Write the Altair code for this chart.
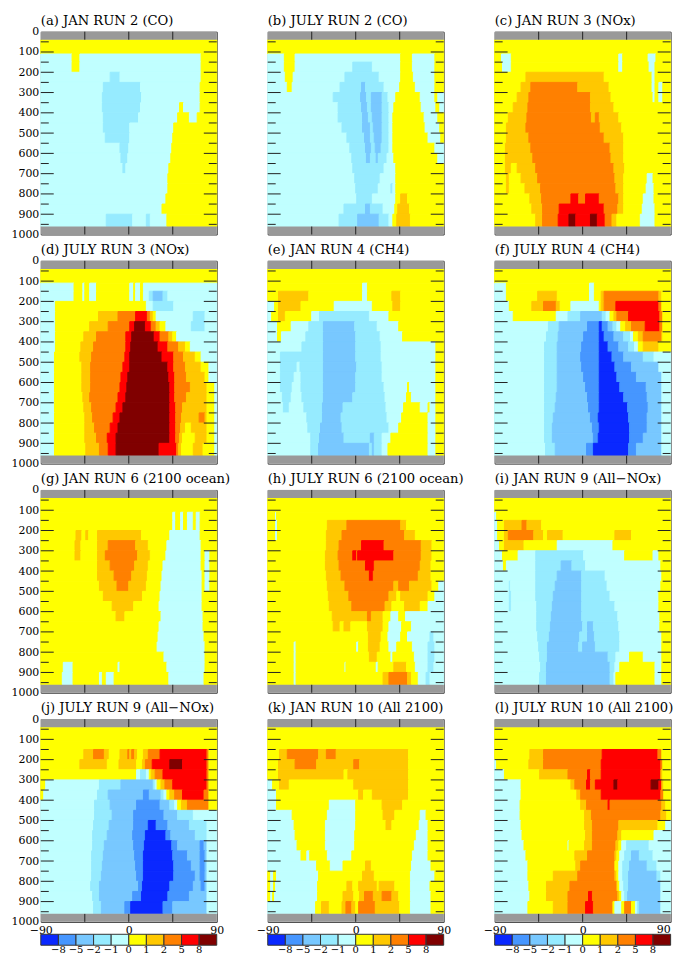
import altair as alt
import pandas as pd

FONT = "DejaVu Serif"
PALETTE = ["#0a28ff", "#4696ff", "#78c8ff", "#96ebff", "#c0ffff",
           "#ffff00", "#ffc800", "#ff8000", "#ff0000", "#800000"]
BAND_LABELS = ["\u22128", "\u22125", "\u22122", "\u22121", "0", "1", "2", "5", "8"]
PRESSURE_EDGES = [40, 110, 150, 200, 250, 300, 350, 400, 450, 500, 550, 600, 650, 700, 750, 800, 850, 900, 960]
TITLES = ["(a) JAN RUN 2 (CO)", "(b) JULY RUN 2 (CO)", "(c) JAN RUN 3 (NOx)",
          "(d) JULY RUN 3 (NOx)", "(e) JAN RUN 4 (CH4)", "(f) JULY RUN 4 (CH4)",
          "(g) JAN RUN 6 (2100 ocean)", "(h) JULY RUN 6 (2100 ocean)", "(i) JAN RUN 9 (All\u2212NOx)",
          "(j) JULY RUN 9 (All\u2212NOx)", "(k) JAN RUN 10 (All 2100)", "(l) JULY RUN 10 (All 2100)"]

# each row: band, latitude where it ends, band, latitude where it ends, ... last band runs to 90
PANEL_A = ["5",
"4 -58 5 -50 4 74 5",
"4 -58 5 -50 4 74 5",
"4 -19 3 -9 4 74 5",
"4 -26 3 12 4 73 5",
"4 -27 3 13 4 73 5",
"4 -27 3 12 4 52 5 56 4 73 5",
"4 -26 3 10 4 50 5 62 4 70 5",
"4 -26 3 1 4 46 5",
"4 -24 3 1 4 45 5",
"4 -9 3 0 4 44 5",
"4 -8 3 -1 4 43 5",
"4 -6 3 -3 4 41 5",
"4 40 5",
"4 40 5",
"4 38 5",
"4 34 5",
"4 -23 3 4 4 18 3 22 4 39 5"]
PANEL_B = ["5",
"4 -73 5 -62 4 46 5 58 4 81 5",
"4 -73 5 -62 4 -3 3 17 4 46 5 58 4 81 5",
"4 -72 5 -64 4 -11 3 24 4 46 5 59 4 81 5",
"4 -70 5 -65 4 -16 3 6 2 10 3 29 4 45 5 61 4 81 5",
"4 -23 3 5 2 11 3 16 2 27 3 33 4 41 5 66 4 81 5 84 4",
"4 -18 3 6 2 12 3 16 2 27 3 34 4 39 5 67 4 82 5 86 4",
"4 -18 3 7 2 13 3 17 2 27 3 34 4 38 5 70 4 84 5",
"4 -14 3 7 2 15 3 18 2 27 3 34 4 38 5 71 4 86 5",
"4 -9 3 9 2 15 3 19 2 27 3 34 4 38 5 74 4 87 5",
"4 -6 3 10 2 16 3 20 2 26 3 34 4 38 5 81 4",
"4 -4 3 11 2 15 3 21 2 23 3 32 4 39 5 84 4",
"4 -3 3 29 4 41 5",
"4 -1 3 25 4 41 5",
"4 0 3 23 4 36 3 38 4 41 5",
"4 1 3 17 4 41 5 46 6 53 5",
"4 -12 3 10 2 15 3 28 4 40 5 43 6 55 5",
"4 -17 3 2 2 24 3 34 4 38 5 42 6 56 5"]
PANEL_C = ["5",
"5 -83 4 -73 5 37 4 41 5 67 4 75 5",
"5 -82 4 -73 5 37 4 41 5 68 4 74 5",
"5 -58 6 22 5 71 4 74 5",
"5 -63 6 -53 7 -5 6 27 5 71 4 74 5 78 4 82 5",
"5 -67 6 -55 7 8 6 29 5 72 4 74 5 78 4 82 5",
"5 -71 6 -56 7 8 6 32 5",
"5 -76 6 -57 7 9 6 13 7 17 6 37 5",
"5 -78 6 -58 7 18 6 40 5",
"5 -78 6 -55 7 22 6 42 5",
"5 -79 6 -53 7 28 6 42 5",
"5 -79 6 -51 7 29 6 42 5",
"5 -79 6 -73 5 -67 6 -48 7 32 6 43 5",
"5 -78 6 -75 5 -63 6 -46 7 33 6 42 5 66 4 72 5",
"5 -78 6 -75 5 -59 6 -43 7 34 6 42 5 65 4 73 5",
"5 -54 6 -42 7 -12 8 -4 7 3 8 17 7 37 6 42 5 62 4 73 5",
"5 -52 6 -41 7 -24 8 22 7 36 6 42 5 61 4 74 5",
"5 -48 6 -41 7 -25 8 -14 9 -7 8 8 9 15 8 23 7 30 6 35 5 59 4 74 5"]
PANEL_D = ["5",
"4 -56 5 -47 4 -45 5 -40 4 -33 5 1 4 5 5 7 4 12 5 15 4",
"4 -56 5 -47 4 -45 5 -40 4 -33 5 1 4 5 5 7 4 12 5 15 4 21 3 25 2 35 3 40 4",
"4 -75 5 18 4 25 3 46 4",
"4 -75 5 -31 6 -11 7 7 8 19 7 22 6 25 5 28 4 66 3 78 4",
"4 -75 5 -40 6 -21 7 1 8 6 9 17 8 23 7 28 6 32 5 38 4 64 3 78 4",
"4 -75 5 -46 6 -33 7 -3 8 3 9 26 8 32 7 41 6 45 5 49 4",
"4 -75 5 -49 6 -36 7 -3 8 2 9 30 8 40 7 51 6 58 5 63 4",
"4 -76 5 -50 6 -38 7 -4 8 1 9 34 8 46 7 56 6 68 5 74 4",
"4 -76 5 -48 6 -39 7 -6 8 1 9 40 8 46 7 58 6 74 5 82 4",
"4 -76 5 -48 6 -39 7 -8 8 -1 9 41 8 47 7 59 6 78 5 82 4",
"4 -76 5 -48 6 -39 7 -9 8 -2 9 42 8 47 7 63 6 80 5 88 4",
"4 -76 5 -47 6 -40 7 -11 8 -3 9 42 8 47 7 59 6 80 5 88 4",
"4 -76 5 -46 6 -38 7 -13 8 -6 9 42 8 48 7 55 6 80 5 88 4",
"4 -76 5 -45 6 -37 7 -16 8 -9 9 42 8 48 7 54 6 72 7 78 6 80 5 88 4",
"4 -76 5 -45 6 -35 7 -19 8 -11 9 42 8 48 7 53 6 58 5 64 6 80 5 88 4",
"4 -76 5 -45 6 -33 7 -22 8 -13 9 42 8 48 7 52 6 55 5 68 6 80 5 88 4",
"4 -76 5 -44 6 -30 7 -21 8 -13 9 31 8 49 7 51 6 54 5 66 6 76 5 88 4"]
PANEL_E = ["5",
"5 7 4 12 5",
"5 -79 6 -48 5 7 4 12 5 37 6 46 5",
"4 -83 5 -79 6 -56 5 -22 4 17 5 38 6 46 5",
"4 -86 5 -79 6 -72 5 -45 4 -37 3 14 4 34 5",
"4 -80 5 -66 4 -48 3 -33 2 -1 3 22 4 44 5",
"4 -80 5 -76 4 -51 3 -33 2 0 3 25 4 48 5",
"4 -55 3 -33 2 0 3 26 4 82 5",
"4 -77 3 -33 2 0 3 26 4 82 5",
"4 -77 3 -60 4 -57 3 -33 2 1 3 27 4 82 5",
"4 -77 3 -63 4 -56 3 -33 2 0 3 27 4 82 5",
"4 -77 3 -65 4 -56 3 -33 2 0 3 29 4 53 5 55 4 82 5",
"4 -75 3 -66 4 -55 3 -33 2 -3 3 30 4 52 5 57 4 82 5",
"4 -74 3 -68 4 -53 3 -34 2 -13 3 31 4 49 5 66 4 74 5 76 4 82 5",
"4 -50 3 -34 2 -15 3 32 4 47 5 74 4 82 5",
"4 -49 3 -36 2 -14 3 34 4 44 5 74 4 82 5",
"4 -46 3 -37 2 -12 3 15 2 19 3 27 4 36 5 74 4 82 5",
"4 -46 3 -38 2 14 3 17 2 19 3 27 4 33 5 74 4 82 5"]
PANEL_F = ["5",
"4 -78 5 7 4 12 5",
"4 -78 5 -46 6 -26 5 7 4 12 5 19 6 22 7 78 6 81 5",
"4 -75 5 -52 6 -40 7 -27 6 -23 5 -12 4 17 5 19 6 22 7 34 8 78 7 81 5",
"4 -71 5 -27 4 -15 3 -2 2 20 3 24 4 28 5 32 6 35 7 47 8 79 7 82 5",
"4 -35 3 -24 2 5 1 17 0 20 1 26 2 31 3 35 4 39 5 44 6 50 7 64 8 79 7 82 5",
"4 -37 3 -25 2 1 1 17 0 22 1 32 2 42 3 49 4 52 5 57 6 62 7 81 6 82 5",
"4 -39 3 -26 2 -1 1 17 0 26 1 37 2 47 3 53 4 57 5 62 6 78 5",
"4 -39 3 -26 2 -2 1 17 0 30 1 42 2 62 3 73 4",
"4 -39 3 -26 2 -1 1 17 0 33 1 50 2 78 4",
"4 -39 3 -26 2 1 1 17 0 35 1 55 2 81 4",
"4 -39 3 -26 2 3 1 17 0 38 1 65 2 81 4",
"4 -39 3 -27 2 5 1 17 0 42 1 66 2 81 4",
"4 -39 3 -28 2 6 1 17 0 46 1 67 2 81 4",
"4 -39 3 -30 2 8 1 16 0 47 1 66 2 81 4",
"4 -39 3 -31 2 10 1 17 0 48 1 66 2 81 4",
"4 -39 3 -31 2 11 1 16 0 48 1 62 2 81 4",
"4 -38 3 -28 2 4 1 11 0 47 1 55 2 81 4"]
PANEL_G = ["5",
"5 45 4 48 5 53 4 56 5 60 4 66 5 69 4 73 5",
"5 45 4 48 5 53 4 56 5 60 4 66 5 69 4 73 5",
"5 -54 6 -48 5 -44 6 -41 5 -32 6 13 5 42 4 73 5",
"5 -55 6 -49 5 -32 6 -21 7 7 6 20 5 39 4 74 5",
"5 -55 6 -49 5 -32 6 -24 7 9 6 22 5 38 4 74 5 78 4 83 5",
"5 -32 6 -19 7 6 6 20 5 35 4 74 5 78 4 83 5",
"5 -32 6 -15 7 3 6 19 5 34 4 75 5 78 4 83 5",
"5 -30 6 -12 7 0 6 18 5 33 4 75 5 78 4 83 5",
"5 -26 6 14 5 32 4 75 5",
"5 -17 6 5 5 31 4 75 5",
"5 -13 6 -4 5 33 4 76 5",
"5 31 4 76 5",
"5 30 4 77 5",
"5 29 4 78 5",
"5 36 4 78 5",
"5 -67 4 -57 5 -11 4 -9 5 39 4 78 5",
"5 -68 4 -57 5 -30 4 -27 5 -23 4 -15 5 41 4 77 5"]
PANEL_H = ["5",
"5 -82 4 -81 5",
"5 -82 4 -80 5 -29 6 -9 7 46 6 52 5",
"5 -82 4 -80 5 -30 6 -14 7 50 6 61 5",
"5 -30 6 -17 7 6 8 29 7 67 6 78 5",
"5 -31 6 -18 7 -3 8 1 7 2 8 39 7 67 6 78 5",
"5 -31 6 -17 7 10 8 19 7 66 6 77 5",
"5 -30 6 -15 7 14 8 18 7 64 6 77 5",
"5 -29 6 -11 7 39 6 44 7 55 6 78 5 85 4",
"5 -28 6 -7 7 34 6 42 5 46 6 74 5 81 4",
"5 -27 6 -4 7 30 6 37 5 50 6 66 5 74 4",
"5 -24 6 12 7 16 6 28 5 36 4 44 5 51 4",
"5 -23 6 -16 5 -12 6 -5 5 12 6 28 5 34 4 47 5 57 4",
"5 13 6 26 5 33 4 46 5 53 4 76 3 80 4",
"5 -63 4 -61 5 1 4 3 5 13 6 25 5 34 4 42 5 58 4 74 3 81 4",
"5 -63 4 -61 5 14 6 22 5 36 4 38 5 60 4 74 3 81 4",
"5 -63 4 -61 5 -11 4 -10 5 21 4 23 5 39 6 52 5 61 4 74 3 80 4",
"5 -63 4 -61 5 28 6 34 7 53 6 57 5 64 4 72 3 76 4"]
PANEL_I = ["5",
"4 -88 5",
"4 -87 5 -80 6 -62 7 -57 6 -42 5",
"4 -87 5 -80 6 -76 7 -50 6 -40 5 -36 6 -20 5 33 6 50 5",
"4 -85 5 -80 6 -60 5 -26 4 31 5",
"4 -82 5 -66 4 -48 3 1 4 43 5 72 4 78 5",
"4 -81 5 -78 4 -48 3 -22 2 -11 3 3 4 80 5",
"4 -48 3 -26 2 -1 3 23 4 81 5",
"4 -75 3 -74 4 -48 3 -28 2 -1 3 25 4 80 5",
"4 -75 3 -73 4 -48 3 -30 2 -1 3 28 4 78 5",
"4 -75 3 -73 4 -47 3 -31 2 -1 3 33 4 78 5",
"4 -47 3 -32 2 -1 3 36 4 79 5",
"4 -47 3 -33 2 0 3 5 2 11 3 37 4 79 5",
"4 -46 3 -34 2 -3 3 5 2 12 3 38 4 81 5",
"4 -45 3 -36 2 -4 3 0 2 13 3 38 4 81 5",
"4 -44 3 -36 2 26 3 34 4 48 5 62 4 81 5",
"4 -43 3 -37 2 28 3 33 4 38 5 74 4 81 5",
"4 -44 3 -37 2 28 3 32 4 34 5 74 4 81 5"]
PANEL_J = ["5",
"5",
"5 -46 6 -36 7 -25 6 -20 5 -9 6 -1 7 1 6 3 7 6 6 9 5 15 6 20 7 32 8 80 7 82 5",
"5 -50 6 -22 5 -10 6 8 5 14 6 17 7 24 8 42 9 55 8 80 7 82 5",
"5 8 4 12 3 18 4 21 5 23 6 27 7 35 8 80 7 82 5",
"5 -85 4 -30 3 -8 2 25 3 27 4 29 5 33 6 37 7 45 8 80 7 82 5",
"5 -87 4 -32 3 -21 2 15 1 21 2 33 3 36 4 39 5 42 6 47 7 55 8 77 7 82 5",
"4 -35 3 -19 2 8 1 32 2 42 3 47 4 50 5 54 6 60 7 82 5",
"4 -35 3 -17 2 5 1 36 2 50 3 66 4",
"4 -36 3 -20 2 5 1 20 0 28 1 40 2 62 3 80 4",
"4 -37 3 -22 2 4 1 17 0 38 1 43 2 68 3 80 4",
"4 -37 3 -25 2 5 1 16 0 44 1 50 2 73 1 77 2 80 4",
"4 -38 3 -26 2 6 1 15 0 45 1 60 2 73 1 78 2 80 4",
"4 -38 3 -27 2 7 1 15 0 46 1 64 2 73 1 78 2 80 4",
"4 -38 3 -28 2 8 1 15 0 46 1 68 2 73 1 78 2 80 4",
"4 -39 3 -30 2 10 1 14 0 42 1 66 2 74 1 78 2 80 4",
"4 -37 3 -30 2 4 1 13 0 40 1 62 2 80 4",
"4 -36 3 -28 2 -4 1 2 0 35 1 45 2 80 4"]
PANEL_K = ["5",
"5",
"5 -78 6 -70 7 -38 6 -30 7 -20 6 54 5",
"5 -79 6 -62 7 -40 6 -2 7 4 6 54 5",
"5 -79 6 -12 5 -8 6 54 5",
"4 -85 5 -78 6 -68 5 -2 6 54 5",
"4 -81 5 3 6 8 5 17 6 54 5",
"4 -81 5 -27 4 0 5 27 6 48 5",
"4 -65 5 -29 4 0 5 28 6 40 5 66 4 72 5",
"4 -63 5 -31 4 0 5 31 6 37 5 65 4 74 5",
"4 -62 5 -31 4 -1 5 62 4 74 5",
"4 -60 5 -31 4 -1 5 60 4 74 5",
"4 -56 5 -50 4 -47 5 -29 4 -4 5 58 4 74 5",
"4 -40 5 -26 4 -13 5 10 6 16 5 57 4 77 5",
"5 -87 4 -84 5 -81 4 -38 5 7 6 19 5 56 4 81 5",
"5 -87 4 -84 5 -82 4 -39 5 -9 6 -3 5 3 6 22 5 24 6 40 5 56 4 76 5",
"5 -87 4 -85 5 -83 4 -39 5 -13 6 -2 5 4 6 9 7 18 6 27 7 37 6 44 5 56 4 77 5",
"4 -41 5 -35 6 -27 5 -14 6 -10 7 -4 6 0 5 3 7 20 6 45 5 56 4 77 5"]
PANEL_L = ["5",
"5",
"5 -54 6 -40 7 20 8 77 7 81 5",
"4 -88 5 -55 6 -40 7 19 8 80 7 82 5",
"4 -80 5 -44 6 -15 7 5 8 8 7 19 8 80 6 82 5",
"4 -63 5 -12 6 -8 7 4 8 8 7 13 8 32 9 36 8 70 9 78 8 81 6 83 5",
"4 -63 5 -6 6 -2 7 19 8 80 7 83 5",
"4 -64 5 -2 6 4 7 26 8 28 7 81 6 85 5",
"4 -64 5 2 6 9 7 80 6 86 5",
"4 -63 5 2 6 10 7 37 6 77 5 85 4",
"4 -62 5 3 6 10 7 36 6 40 5 73 4",
"4 -60 5 -15 4 -14 5 2 6 10 7 34 6 37 5 40 4 45 3 68 4",
"4 -58 5 -8 6 5 7 33 6 35 5 38 4 43 3 50 2 58 3 72 4",
"4 -56 5 -7 6 -2 7 33 5 37 4 41 3 48 2 66 3 76 4",
"4 -56 5 -30 6 -5 7 33 6 35 5 37 4 41 3 47 2 76 3 80 4",
"4 -55 5 -37 6 -13 7 35 6 36 5 38 4 42 3 47 2 80 4",
"4 -54 5 -37 6 -15 7 6 8 10 7 36 6 38 5 40 4 43 3 46 2 80 4",
"4 -56 5 -30 6 -15 7 3 8 11 7 31 5 33 4 40 5 43 7 50 5 54 4 56 3 58 2 80 4"]
PANELS = [PANEL_A, PANEL_B, PANEL_C, PANEL_D, PANEL_E, PANEL_F,
          PANEL_G, PANEL_H, PANEL_I, PANEL_J, PANEL_K, PANEL_L]

W, H = 177, 204
LAT = alt.Scale(domain=[-90, 90], nice=False, zero=False)
PRS = alt.Scale(domain=[1000, 0], nice=False, zero=False)
BANDS = alt.Scale(domain=list(range(10)), range=PALETTE)


def cells(rows):
    out = []
    for i, row in enumerate(rows):
        tok = row.split()
        start = -90
        for j in range(0, len(tok), 2):
            end = float(tok[j + 1]) if j + 1 < len(tok) else 90
            out.append(dict(lat0=start, lat1=end, p0=PRESSURE_EDGES[i], p1=PRESSURE_EDGES[i + 1], band=int(tok[j])))
            start = end
    return pd.DataFrame(out)


grey = pd.DataFrame({"a": [0, 960], "b": [40, 1000]})
minor = pd.DataFrame({"p": [p for p in range(50, 1000, 100)]})
major = pd.DataFrame({"p": [p for p in range(100, 1000, 100)]})
vert = pd.DataFrame({"lat": [-45, 0, 45]})


def panel(idx):
    col, row = idx % 3, idx // 3
    yaxis = alt.Axis(values=list(range(0, 1001, 100)), ticks=False, domain=False, grid=False, title=None,
                     format="d", labelFont=FONT, labelFontSize=11, labelColor="#000", labelPadding=2) if col == 0 else None
    xvals = [-90, 0] if col == 2 else [-90, 0, 90]
    xaxis = alt.Axis(values=xvals, ticks=False, domain=False, grid=False, title=None, format="d",
                     labelFont=FONT, labelFontSize=11, labelColor="#000", labelPadding=3,
                     labelFlush=False) if row == 3 else None
    base = alt.Chart(cells(PANELS[idx]))
    rects = base.mark_rect(strokeWidth=1).encode(
        x=alt.X("lat0:Q", scale=LAT, axis=xaxis), x2="lat1:Q",
        y=alt.Y("p0:Q", scale=PRS, axis=yaxis), y2="p1:Q",
        color=alt.Color("band:O", scale=BANDS, legend=None),
        stroke=alt.Stroke("band:O", scale=BANDS, legend=None))
    gband = alt.Chart(grey).mark_rect(color="#999999").encode(
        y=alt.Y("a:Q", scale=PRS, axis=yaxis), y2="b:Q", x=alt.value(0), x2=alt.value(W))
    tick = dict(color="#222222", strokeWidth=1)
    layers = [rects, gband]
    for data, length in ((minor, 8), (major, 13)):
        layers.append(alt.Chart(data).mark_rule(**tick).encode(
            y=alt.Y("p:Q", scale=PRS, axis=yaxis), x=alt.value(0), x2=alt.value(length)))
        layers.append(alt.Chart(data).mark_rule(**tick).encode(
            y=alt.Y("p:Q", scale=PRS, axis=yaxis), x=alt.value(W - length), x2=alt.value(W)))
    layers.append(alt.Chart(vert).mark_rule(**tick).encode(
        x=alt.X("lat:Q", scale=LAT, axis=xaxis), y=alt.value(0), y2=alt.value(8)))
    layers.append(alt.Chart(vert).mark_rule(**tick).encode(
        x=alt.X("lat:Q", scale=LAT, axis=xaxis), y=alt.value(H - 8), y2=alt.value(H)))
    layers.append(alt.Chart(pd.DataFrame({"t": [TITLES[idx]]})).mark_text(
        font=FONT, fontSize=13.2, color="#000", align="left", baseline="alphabetic").encode(
        x=alt.value(0), y=alt.value(-7), text="t:N"))
    if row == 3 and col == 2:
        layers.append(alt.Chart(pd.DataFrame({"t": ["90"]})).mark_text(
            font=FONT, fontSize=11, color="#000", align="right", baseline="middle").encode(
            x=alt.value(W), y=alt.value(H + 8), text="t:N"))
    return alt.layer(*layers).properties(width=W, height=H)


def colorbar():
    boxes = pd.DataFrame({"i0": list(range(10)), "i1": list(range(1, 11)), "band": list(range(10))})
    labels = pd.DataFrame({"i": list(range(1, 10)), "t": BAND_LABELS})
    scale = alt.Scale(domain=[0, 10], nice=False, zero=False)
    b = alt.Chart(boxes).mark_rect(stroke="#333333", strokeWidth=1).encode(
        x=alt.X("i0:Q", scale=scale, axis=None), x2="i1:Q",
        y=alt.value(-14), y2=alt.value(-3),
        color=alt.Color("band:O", scale=BANDS, legend=None))
    t = alt.Chart(labels).mark_text(font=FONT, fontSize=10, color="#000", baseline="middle").encode(
        x=alt.X("i:Q", scale=scale, axis=None), y=alt.value(2), text="t:N")
    return alt.layer(b, t).properties(width=W, height=5, view=alt.ViewBackground(strokeOpacity=0))


chart = alt.concat(*[panel(i) for i in range(12)], colorbar(), colorbar(), colorbar(),
                   columns=3, spacing={"row": 26.5, "column": 51.3}, bounds="flush"
                   ).properties(padding={"left": 2, "top": 2, "right": 0, "bottom": 0}, background="white"
                   ).configure_view(stroke="#333333", strokeWidth=1)

chart.save("out.html", embed_options={"renderer": "svg", "actions": False})
